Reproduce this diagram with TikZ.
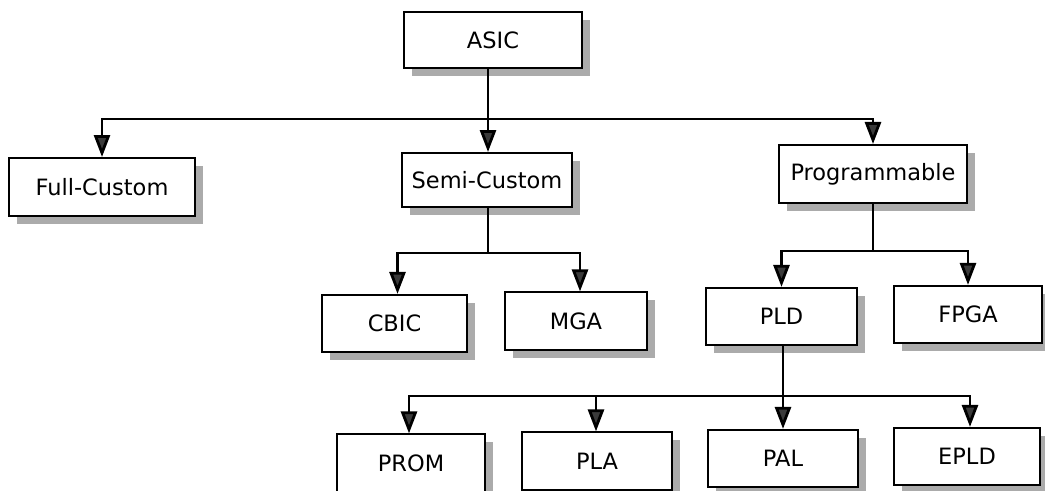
\documentclass[tikz,border=0pt]{standalone}
\usepackage{fontspec}
\setmainfont{DejaVu Sans}
\usetikzlibrary{arrows.meta,shadows,calc}
\definecolor{tipgray}{HTML}{3A3A3A}
\definecolor{shade}{HTML}{ABABAB}

\begin{document}
\begin{tikzpicture}[x=0.025cm, y=-0.025cm,
      box/.style={draw=black, line width=1.4pt, fill=white, minimum height=1.43cm,
                  inner sep=2pt, font=\fontsize{16}{19}\selectfont,
                  drop shadow={shadow xshift=0.2cm, shadow yshift=-0.2cm, fill=shade, opacity=1}},
      wire/.style={line width=2pt, black},
      arr/.style={wire, -{Triangle[length=0.55cm, width=0.4cm, fill=tipgray]}}
    ]
      \useasboundingbox (0,0) rectangle (1045,491);

      % top level
      \node[box, minimum width=4.43cm, minimum height=1.4cm] (asic) at (493,40) {ASIC};
      \node[box, minimum width=4.65cm, minimum height=1.45cm] (full) at (102,187) {Full-Custom};
      \node[box, minimum width=4.25cm, minimum height=1.35cm] (semi) at (487,180) {Semi-Custom};
      \node[box, minimum width=4.7cm, minimum height=1.45cm] (prog) at (873,174) {Programmable};

      % second level
      \node[box, minimum width=3.63cm] (cbic) at (394.5,323.5) {CBIC};
      \node[box, minimum width=3.55cm] (mga) at (576,321) {MGA};
      \node[box, minimum width=3.78cm] (pld) at (781.5,316.5) {PLD};
      \node[box, minimum width=3.7cm] (fpga) at (968,314.5) {FPGA};

      % third level
      \node[box, minimum width=3.7cm] (prom) at (411,463) {PROM};
      \node[box, minimum width=3.75cm] (pla) at (597,461) {PLA};
      \node[box, minimum width=3.75cm] (pal) at (783,458.5) {PAL};
      \node[box, minimum width=3.63cm] (epld) at (967,456.5) {EPLD};

      \coordinate (asicbus) at (488,119);
      \coordinate (semibus) at (488,253);
      \coordinate (progbus) at (873,251);
      \coordinate (pldbus) at (783,396);

      \draw[wire] (asic.south -| asicbus) -- (asicbus);
      \draw[arr] (asicbus) -| (full.north);
      \draw[arr] (asicbus) -- (semi.north -| asicbus);
      \draw[arr] (asicbus) -| (prog.north);

      \draw[wire] (semi.south -| semibus) -- (semibus);
      \draw[arr] (semibus) -| ($(cbic.north)+(3,0)$);
      \draw[arr] (semibus) -| ($(mga.north)+(4,0)$);

      \draw[wire] (prog.south) -- (progbus);
      \draw[arr] (progbus) -| (pld.north);
      \draw[arr] (progbus) -| (fpga.north);

      \draw[wire] (pld.south -| pldbus) -- (pldbus);
      \draw[arr] (pldbus) -| ($(prom.north)+(-2,0)$);
      \draw[arr] (pldbus) -| ($(pla.north)+(-1,0)$);
      \draw[arr] (pldbus) -- (pal.north);
      \draw[arr] (pldbus) -| ($(epld.north)+(3,0)$);
    \end{tikzpicture}
\end{document}
